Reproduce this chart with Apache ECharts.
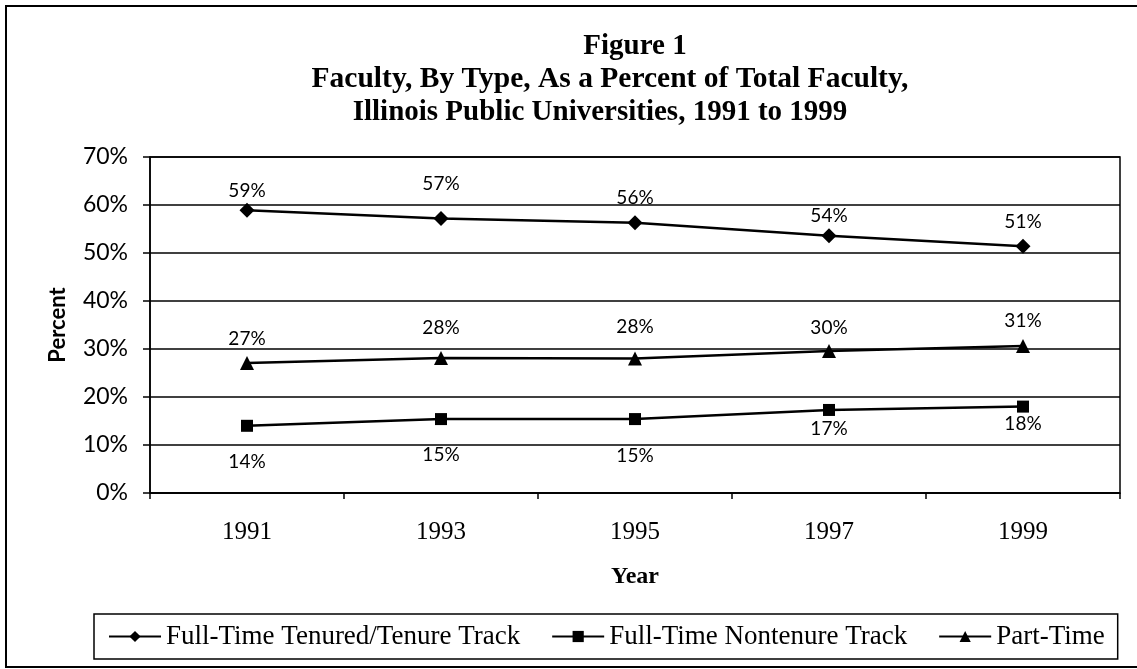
<!DOCTYPE html>
<html>
<head>
<meta charset="utf-8">
<script src="https://cdn.jsdelivr.net/npm/echarts@6/dist/echarts.min.js"></script>
<style>
html,body{margin:0;padding:0;background:#fff;}
#chart{width:1137px;height:669px;}
</style>
</head>
<body>
<div id="chart"></div>
<script>
// ---- data ----
const years = ['1991', '1993', '1995', '1997', '1999'];
const seriesNames = ['Full-Time Tenured/Tenure Track', 'Full-Time Nontenure Track', 'Part-Time'];
const tenured = [58.9, 57.2, 56.3, 53.6, 51.4];
const nontenure = [14.0, 15.4, 15.4, 17.3, 18.0];
const partTime = [27.1, 28.1, 28.0, 29.6, 30.6];
const yTicks = [0, 10, 20, 30, 40, 50, 60, 70];
const titleLines = ['Figure 1', 'Faculty, By Type, As a Percent of Total Faculty,', 'Illinois Public Universities, 1991 to 1999'];

// ---- style ----
const titleCenters = [635, 610, 600];
const titleTops = [30, 63, 96];
const tenuredLabelDist = [2, 18, 8, 3, 7];
const partLabelDist = [8, 14, 15, 7, 9];
const nonLabelDist = [21, 20, 21, 3, 2];

const serif = '"Liberation Serif", "Times New Roman", serif';
const sans = 'Lato, "Open Sans", sans-serif';

function pts(values, dists, pos) {
  return values.map((v, i) => ({
    value: v,
    label: { position: pos, distance: dists[i] }
  }));
}

const labelStyle = {
  show: true,
  color: '#000',
  fontFamily: sans,
  fontSize: 19,
  formatter: p => Math.round(p.value) + '%'
};

const chart = echarts.init(document.getElementById('chart'), null, { renderer: 'canvas' });
chart.setOption({
  animation: false,
  backgroundColor: '#fff',
  title: titleLines.map((t, i) => ({
    text: t,
    left: titleCenters[i],
    textAlign: 'center',
    top: titleTops[i],
    padding: 0,
    textStyle: {
      fontFamily: serif,
      fontWeight: 'bold',
      fontSize: i === 1 ? 29.5 : 29,
      lineHeight: 33,
      color: '#000'
    }
  })),
  graphic: [{
    type: 'rect',
    shape: { x: 6, y: 6, width: 1200, height: 661 },
    style: { fill: null, stroke: '#000', lineWidth: 2 },
    silent: true,
    z: 100
  }],
  grid: {
    left: 150, right: 17, top: 157, bottom: 176,
    show: true, borderColor: '#000', borderWidth: 1.5,
    containLabel: false
  },
  legend: {
    left: 94,
    top: 614,
    padding: [9, 13, 9, 14],
    borderColor: '#000',
    borderWidth: 1.5,
    itemWidth: 52,
    itemHeight: 14,
    itemGap: 31,
    textStyle: { fontFamily: serif, fontSize: 27, color: '#000' },
    data: seriesNames
  },
  xAxis: {
    type: 'category',
    data: years,
    boundaryGap: true,
    name: 'Year',
    nameLocation: 'middle',
    nameGap: 72,
    nameTextStyle: { fontFamily: serif, fontWeight: 'bold', fontSize: 24, color: '#000', letterSpacing: 1 },
    axisLine: { lineStyle: { color: '#000', width: 1.5 } },
    axisTick: { show: true, inside: false, length: 6, lineStyle: { color: '#000', width: 1.5 } },
    axisLabel: { margin: 27, fontFamily: serif, fontSize: 25, color: '#000' },
    splitLine: { show: false }
  },
  yAxis: {
    type: 'value',
    min: 0, max: 70, interval: 10,
    name: 'Percent',
    nameLocation: 'middle',
    nameGap: 81,
    nameTextStyle: { fontFamily: sans, fontWeight: 'bold', fontSize: 22, color: '#000' },
    axisLine: { show: true, lineStyle: { color: '#000', width: 1.5 } },
    axisTick: { show: true, inside: false, length: 7, lineStyle: { color: '#000', width: 1.5 } },
    axisLabel: {
      margin: 22, fontFamily: sans, fontSize: 23, color: '#000',
      formatter: v => (yTicks.indexOf(v) >= 0 ? v + '%' : '')
    },
    splitLine: { show: true, lineStyle: { color: '#000', width: 1.5 } }
  },
  series: [
    {
      name: seriesNames[0], type: 'line',
      data: pts(tenured, tenuredLabelDist, 'top'),
      symbol: 'diamond', symbolSize: 15,
      lineStyle: { color: '#000', width: 2.5 },
      itemStyle: { color: '#000' },
      label: labelStyle
    },
    {
      name: seriesNames[1], type: 'line',
      data: pts(nontenure, nonLabelDist, 'bottom'),
      symbol: 'rect', symbolSize: 12,
      lineStyle: { color: '#000', width: 2.5 },
      itemStyle: { color: '#000' },
      label: labelStyle
    },
    {
      name: seriesNames[2], type: 'line',
      data: pts(partTime, partLabelDist, 'top'),
      symbol: 'triangle', symbolSize: 14,
      lineStyle: { color: '#000', width: 2.5 },
      itemStyle: { color: '#000' },
      label: labelStyle
    }
  ]
});
</script>
</body>
</html>
